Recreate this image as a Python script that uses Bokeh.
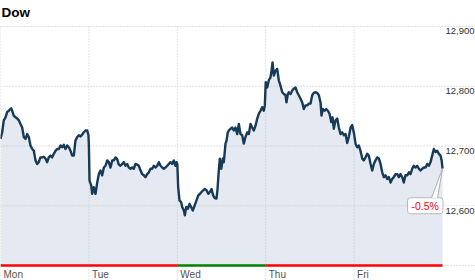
from bokeh.plotting import figure
from bokeh.models import Range1d, Label
from bokeh.core.properties import value
from bokeh.embed import file_html
from bokeh.resources import INLINE

# ---------------- data ----------------
title_text = "Dow"
days = ["Mon", "Tue", "Wed", "Thu", "Fri"]
day_up = [False, False, True, False, False]
y_ticks = [12600, 12700, 12800, 12900]
y_tick_labels = ["12,600", "12,700", "12,800", "12,900"]
base_value = 12500
change_label = "-0.5%"

# time within each trading day (0 = open, 1 = close) and index level
mon_frac = [0.000, 0.019, 0.037, 0.057, 0.076, 0.094, 0.121, 0.132, 0.150, 0.170,
            0.189, 0.207, 0.226, 0.245, 0.264, 0.283, 0.302, 0.320, 0.339, 0.359,
            0.377, 0.396, 0.415, 0.433, 0.452, 0.472, 0.490, 0.509, 0.528, 0.546,
            0.566, 0.585, 0.603, 0.622, 0.641, 0.660, 0.679, 0.698, 0.716, 0.735,
            0.755, 0.773, 0.792, 0.811, 0.829, 0.848, 0.868, 0.886, 0.905, 0.924,
            0.942, 0.962, 0.981, 0.995]
mon_val = [12712, 12723, 12743, 12748, 12757, 12759, 12763, 12759, 12751, 12748,
           12746, 12743, 12737, 12731, 12715, 12712, 12720, 12715, 12701, 12695,
           12692, 12676, 12670, 12673, 12681, 12681, 12682, 12679, 12673, 12681,
           12684, 12681, 12687, 12692, 12695, 12695, 12701, 12698, 12702, 12695,
           12701, 12698, 12692, 12684, 12684, 12709, 12715, 12718, 12716, 12719,
           12723, 12726, 12726, 12718]

tue_frac = [0.000, 0.007, 0.026, 0.037, 0.055, 0.075, 0.094, 0.112, 0.131, 0.150,
            0.169, 0.188, 0.207, 0.225, 0.244, 0.264, 0.282, 0.301, 0.320, 0.338,
            0.357, 0.377, 0.395, 0.414, 0.433, 0.451, 0.471, 0.490, 0.508, 0.527,
            0.546, 0.564, 0.584, 0.603, 0.621, 0.640, 0.659, 0.678, 0.697, 0.716,
            0.734, 0.753, 0.773, 0.791, 0.810, 0.829, 0.847, 0.867, 0.886, 0.904,
            0.923, 0.942, 0.960, 0.980, 0.991]
tue_val = [12700, 12642, 12634, 12620, 12631, 12620, 12639, 12653, 12659, 12651,
           12664, 12667, 12676, 12673, 12664, 12676, 12676, 12681, 12678, 12669,
           12667, 12670, 12673, 12667, 12670, 12664, 12662, 12664, 12662, 12670,
           12669, 12667, 12659, 12653, 12651, 12648, 12653, 12656, 12662, 12662,
           12667, 12664, 12667, 12673, 12667, 12664, 12662, 12664, 12667, 12670,
           12673, 12670, 12676, 12667, 12673]

wed_frac = [0.000, 0.010, 0.025, 0.044, 0.055, 0.074, 0.085, 0.101, 0.119, 0.138,
            0.157, 0.175, 0.195, 0.217, 0.236, 0.255, 0.274, 0.293, 0.311, 0.330,
            0.350, 0.368, 0.387, 0.406, 0.424, 0.443, 0.455, 0.469, 0.481, 0.497,
            0.515, 0.526, 0.545, 0.557, 0.571, 0.583, 0.602, 0.621, 0.639, 0.658,
            0.678, 0.696, 0.715, 0.734, 0.752, 0.771, 0.791, 0.809, 0.828, 0.847,
            0.865, 0.885, 0.904, 0.922, 0.941, 0.960, 0.978, 0.990]
wed_val = [12670, 12631, 12609, 12606, 12598, 12592, 12584, 12598, 12595, 12603,
           12598, 12592, 12600, 12609, 12617, 12620, 12623, 12626, 12628, 12626,
           12620, 12623, 12628, 12617, 12613, 12612, 12628, 12659, 12679, 12662,
           12679, 12673, 12704, 12709, 12723, 12726, 12729, 12731, 12726, 12731,
           12720, 12737, 12720, 12718, 12704, 12715, 12723, 12720, 12737, 12731,
           12726, 12734, 12746, 12754, 12759, 12765, 12759, 12768]

thu_frac = [0.000, 0.017, 0.035, 0.054, 0.066, 0.077, 0.092, 0.111, 0.130, 0.148,
            0.167, 0.187, 0.205, 0.224, 0.235, 0.250, 0.261, 0.281, 0.300, 0.318,
            0.337, 0.356, 0.374, 0.394, 0.413, 0.431, 0.450, 0.469, 0.488, 0.507,
            0.526, 0.544, 0.563, 0.583, 0.601, 0.620, 0.631, 0.646, 0.665, 0.684,
            0.703, 0.722, 0.741, 0.756, 0.770, 0.790, 0.809, 0.827, 0.846, 0.865,
            0.884, 0.903, 0.922, 0.941, 0.960, 0.978]
thu_val = [12807, 12798, 12810, 12815, 12826, 12840, 12818, 12826, 12829, 12810,
           12801, 12790, 12787, 12785, 12773, 12787, 12790, 12787, 12793, 12796,
           12798, 12790, 12785, 12779, 12773, 12762, 12768, 12768, 12771, 12771,
           12785, 12789, 12790, 12789, 12785, 12773, 12751, 12762, 12759, 12762,
           12759, 12754, 12740, 12748, 12729, 12743, 12746, 12731, 12720, 12723,
           12718, 12720, 12705, 12716, 12731, 12735]

fri_frac = [0.000, 0.016, 0.035, 0.053, 0.072, 0.092, 0.110, 0.129, 0.148, 0.166,
            0.186, 0.205, 0.223, 0.242, 0.261, 0.280, 0.299, 0.318, 0.336, 0.355,
            0.374, 0.393, 0.412, 0.431, 0.449, 0.468, 0.488, 0.506, 0.525, 0.544,
            0.562, 0.581, 0.601, 0.620, 0.638, 0.657, 0.675, 0.695, 0.714, 0.732,
            0.751, 0.770, 0.789, 0.808, 0.827, 0.845, 0.864, 0.883, 0.902, 0.921,
            0.940, 0.958, 0.977, 0.990, 1.000]
fri_val = [12720, 12704, 12698, 12701, 12692, 12679, 12676, 12681, 12687, 12684,
           12670, 12659, 12670, 12676, 12681, 12679, 12670, 12656, 12648, 12651,
           12645, 12648, 12639, 12645, 12648, 12653, 12653, 12648, 12653, 12648,
           12639, 12651, 12651, 12656, 12653, 12662, 12667, 12664, 12667, 12662,
           12659, 12662, 12664, 12664, 12670, 12667, 12673, 12684, 12695, 12690,
           12692, 12687, 12684, 12676, 12662]

# ---------------- assemble series ----------------
fracs = [mon_frac, tue_frac, wed_frac, thu_frac, fri_frac]
vals = [mon_val, tue_val, wed_val, thu_val, fri_val]
xs, ys = [], []
for i, (f, v) in enumerate(zip(fracs, vals)):
    xs += [i + t for t in f]
    ys += list(v)

# ---------------- figure ----------------
W, H = 475, 280
x_lo, x_hi = 0.0, 5.373
y_lo, y_hi = 12475.0, 12943.5

p = figure(width=W, height=H, x_range=Range1d(x_lo, x_hi), y_range=Range1d(y_lo, y_hi),
           output_backend="svg", toolbar_location=None, min_border=0,
           x_axis_location=None, y_axis_location=None)
p.grid.visible = False
p.outline_line_color = None
p.background_fill_color = "white"
p.border_fill_color = "white"

FONT = value("Liberation Sans")
grid_color = "#c4c4c4"

# area under the line
p.varea(x=xs, y1=[base_value] * len(xs), y2=ys, fill_color="#e5e9f1")

# horizontal dotted grid lines (including the base level)
h_levels = [base_value] + y_ticks
p.segment(x0=[x_lo] * len(h_levels), x1=[x_hi] * len(h_levels), y0=h_levels, y1=h_levels,
          line_color=grid_color, line_width=1, line_dash="1 2")
# vertical dotted grid lines at each day start
day_x = list(range(len(days)))
p.segment(x0=day_x, x1=day_x, y0=[y_ticks[-1]] * len(days), y1=[y_lo] * len(days),
          line_color=grid_color, line_width=1, line_dash="1 2")

# daily up/down bars on the base line
bar_colors = ["#008000" if up else "#ff0000" for up in day_up]
p.segment(x0=day_x, x1=[d + 1 for d in day_x], y0=[base_value] * len(days),
          y1=[base_value] * len(days), line_color=bar_colors, line_width=2.5)

# index line
p.line(xs, ys, line_color="#173a56", line_width=2.4, line_join="round")

# y tick labels (inside, right)
p.text(x=[x_hi] * len(y_ticks), y=y_ticks, text=y_tick_labels, text_align="right",
       text_baseline="top", x_offset=-1, y_offset=2, text_font_size="9.5px",
       text_color="#333333", text_font=FONT)

# day labels
p.text(x=day_x, y=[base_value] * len(days), text=days, text_align="left",
       text_baseline="top", x_offset=3, y_offset=3, text_font_size="10px",
       text_color="#555555", text_font=FONT)

# title
p.text(x=[x_lo], y=[y_hi], text=[title_text], text_align="left", text_baseline="top",
       x_offset=1, y_offset=4, text_font_size="13.5px", text_font_style="bold",
       text_color="#000000", text_font=FONT)

# change callout
lx, lv = xs[-1], ys[-1]
sx = W / (x_hi - x_lo)
sy = H / (y_hi - y_lo)
base_y = lv - 29 / sy
tri_x = [lx, lx - 11 / sx, lx - 5 / sx]
tri_y = [lv, base_y, base_y]
tri = p.patch(tri_x, tri_y, fill_color="white", line_color=None)
tri.level = "overlay"
sides = p.segment(x0=[lx, lx], y0=[lv, lv], x1=[tri_x[1], tri_x[2]], y1=[base_y, base_y],
                  line_color="#b0b0b0", line_width=1)
sides.level = "overlay"

lab = Label(x=lx, y=lv, x_offset=-35, y_offset=-29, text=change_label,
            text_align="left", text_baseline="top", text_font_size="10.5px",
            text_color="#ff0000", text_font="Liberation Sans",
            background_fill_color="white", border_line_color="#b8b8b8",
            border_line_width=1, padding=(4, 2), border_radius=3)
p.add_layout(lab)

open("out.html", "w").write(file_html(p, INLINE))
